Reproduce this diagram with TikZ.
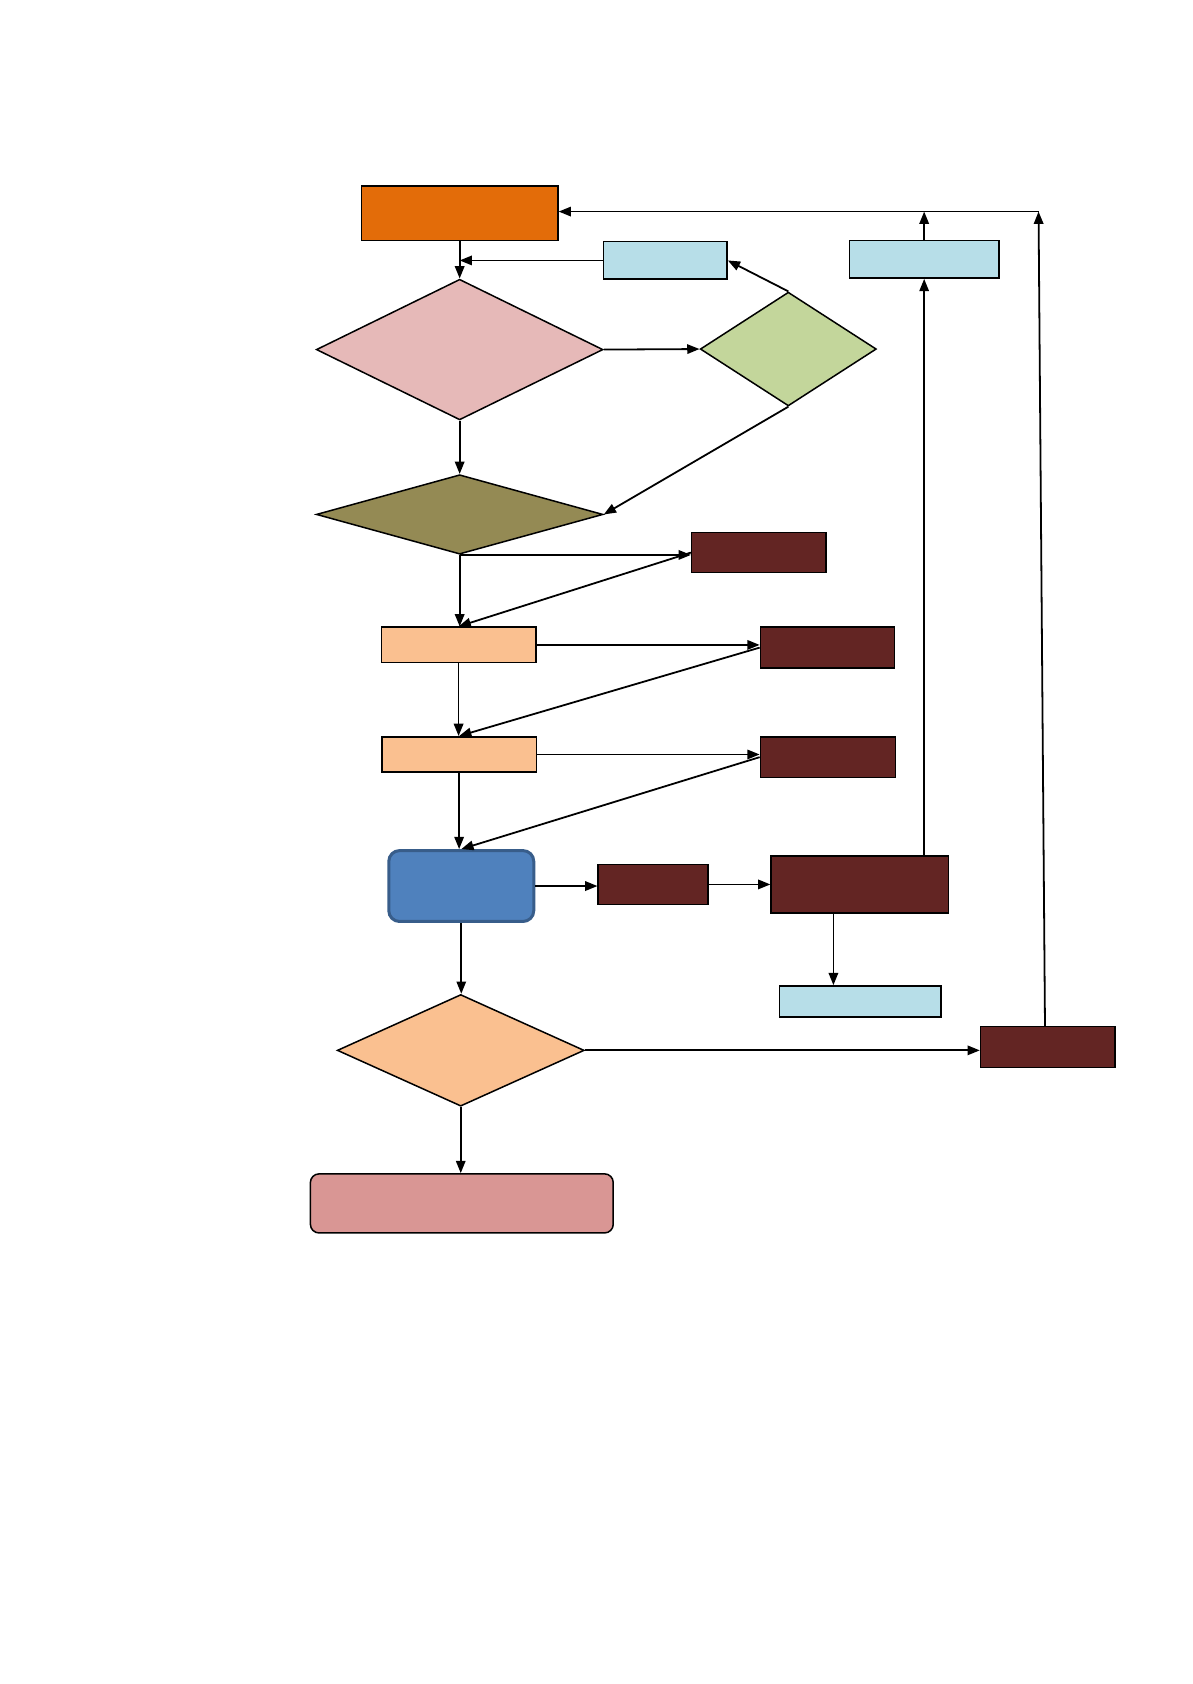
\documentclass[tikz,border=0pt]{standalone}
\usepackage{tikz}
\usetikzlibrary{arrows.meta,calc,positioning,shapes.geometric}

\definecolor{startorange}{HTML}{E36C09}
\definecolor{infoblue}{HTML}{B7DEE8}
\definecolor{checkpink}{HTML}{E6B9B8}
\definecolor{checkgreen}{HTML}{C3D69B}
\definecolor{checkolive}{HTML}{948A54}
\definecolor{errmaroon}{HTML}{632523}
\definecolor{steppeach}{HTML}{FAC090}
\definecolor{runblue}{HTML}{4F81BD}
\definecolor{runborder}{HTML}{385D8A}
\definecolor{endrose}{HTML}{D99694}

\begin{document}
\begin{tikzpicture}[
  x=0.02cm,y=-0.02cm,
  >={Triangle[length=6.5pt,width=5pt]},
  box/.style     ={draw,rectangle,line width=0.8pt,inner sep=0pt},
  decision/.style={draw,diamond,line width=0.8pt,inner sep=0pt},
  startbox/.style={box,fill=startorange,minimum width=3.66cm,minimum height=1.02cm},
  info/.style    ={box,fill=infoblue,minimum height=0.70cm},
  err/.style     ={box,fill=errmaroon,minimum height=0.76cm},
  stepbox/.style ={box,fill=steppeach,minimum width=2.88cm,minimum height=0.66cm},
  arrow/.style   ={->,line width=0.95pt},
]
\useasboundingbox (0,0) rectangle (1110,1568);

%% ===== Main column ===========================================================
\node[startbox] (start) at (428,198.5) {};
\node[decision,fill=checkpink,minimum width=5.34cm,minimum height=2.62cm]
      (chkA) at (428,325.5) {};
\node[decision,fill=checkolive,minimum width=5.34cm,minimum height=1.48cm]
      (chkC) at (428,479) {};
\node[stepbox] (stepA) at (427,600.5) {};
\node[stepbox] (stepB) at (427.5,702.5) {};
\node[box,fill=runblue,draw=runborder,line width=1.6pt,rounded corners=0.2cm,
      minimum width=2.70cm,minimum height=1.32cm] (run) at (429.5,825) {};
\node[decision,fill=steppeach,minimum width=4.60cm,minimum height=2.08cm]
      (chkD) at (429,978) {};
\node[box,fill=endrose,rounded corners=0.16cm,
      minimum width=5.64cm,minimum height=1.10cm] (finish) at (430,1120.5) {};

%% ===== Side nodes ============================================================
\node[info,minimum width=2.30cm] (retry)  at (619.5,242.5) {};
\node[info,minimum width=2.78cm] (report) at (860.5,241.5) {};
\node[decision,fill=checkgreen,minimum width=3.28cm,minimum height=2.12cm]
      (chkB) at (734,325) {};
\node[err,minimum width=2.50cm,minimum height=0.74cm] (errA) at (706.5,514.5) {};
\node[err,minimum width=2.50cm] (errB) at (770.5,603) {};
\node[err,minimum width=2.52cm] (errC) at (771,705) {};
\node[err,minimum width=2.04cm,minimum height=0.74cm] (errD) at (608,823.5) {};
\node[err,minimum width=3.30cm,minimum height=1.06cm] (errE) at (800.5,823.5) {};
\node[info,minimum width=3.00cm,minimum height=0.58cm] (logbox) at (801,932.5) {};
\node[err,minimum width=2.50cm] (errF) at (975.5,975) {};
\coordinate (loopcorner) at (967,197);

%% ===== Arrows down the main column ===========================================
\foreach \a/\b in {start/chkA, chkA/chkC, chkC/stepA, stepA/stepB,
                   stepB/run, run/chkD, chkD/finish} {
  \draw[arrow] (\a.south) -- (\a.south |- \b.north);
}

%% ===== Checks and retries ====================================================
\draw[arrow] (retry.west) -- (retry.west -| start.south);
\draw[arrow] (chkA.east) -- (chkB.west);
\draw[arrow] (chkB.north) -- (retry.east);
\draw[arrow] (chkB.south) -- (chkC.east);
\draw[arrow] (chkC.south) -- (chkC.south -| errA.west);
\foreach \s/\e in {stepA/errB, stepB/errC} {
  \draw[arrow] (\s.east) -- (\s.east -| \e.west);
}
\foreach \e/\s in {errA/stepA, errB/stepB, errC/run} {
  \draw[arrow] (\e.west) -- (\s.north);
}

%% ===== Run branch and feedback loop ==========================================
\draw[arrow] (run.east) -- (run.east -| errD.west);
\draw[arrow] (errD.east) -- (errE.west);
\draw[arrow] ([xshift=-0.49cm]errE.south) -- ([xshift=-0.49cm]errE.south |- logbox.north);
\draw[arrow] (report.south |- errE.north) -- (report.south);
\draw[arrow] (report.north) -- (report.north |- loopcorner);
\draw[arrow] (chkD.east) -- (chkD.east -| errF.west);
\draw[arrow] ([xshift=-0.05cm]errF.north) -- (loopcorner);
\draw[arrow] (loopcorner) -- (loopcorner -| start.east);

\end{tikzpicture}
\end{document}
